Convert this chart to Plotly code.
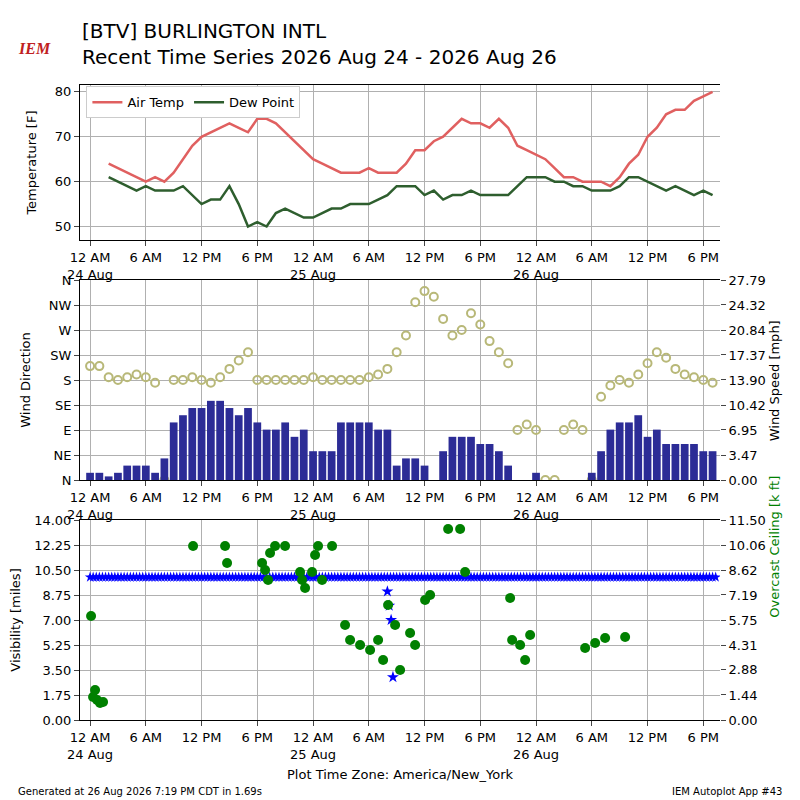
import plotly.graph_objects as go
import pandas as pd

t0 = pd.Timestamp("2026-08-24 00:00")
def T(h): return [t0 + pd.Timedelta(hours=x) for x in h]

# Temperature (hourly from h=2)
temp_h = list(range(2, 68))
air = [64,63,62,61,60,61,60,62,65,68,70,71,72,73,72,71,74,74,73,71,69,67,65,64,63,62,62,62,63,62,62,62,64,67,67,69,70,72,74,73,73,72,74,72,68,67,66,65,63,61,61,60,60,60,59,61,64,66,70,72,75,76,76,78,79,80][:len(temp_h)]
dew = [61,60,59,58,59,58,58,58,59,57,55,56,56,59,55,50,51,50,53,54,53,52,52,53,54,54,55,55,55,56,57,59,59,59,57,58,56,57,57,58,57,57,57,57,59,61,61,61,60,60,59,59,58,58,58,59,61,61,60,59,58,59,58,57,58,57][:len(temp_h)]

# Wind (hourly)
wind_h = list(range(0, 68))
wspd = [1,1,0.5,1,2,2,2,1,3,8,9,10,10,11,11,10,9,10,8,7,7,8,6,7,4,4,4,8,8,8,8,7,7,2,3,3,2,0,4,6,6,6,5,5,4,2,0,0,1,0,0,0,0,0,1,4,7,8,8,9,6,7,5,5,5,5,4,4][:len(wind_h)]
wdir = [205,205,185,180,185,190,185,175,0,180,180,185,180,175,185,200,215,230,180,180,180,180,180,180,185,180,180,180,180,180,185,190,200,230,260,320,340,330,290,260,270,300,280,250,230,210,90,100,90,0,0,90,100,90,0,150,170,180,175,190,210,230,220,200,190,185,180,175][:len(wind_h)]

# Visibility (every 20 min) and ceiling
vis_h = [i/3 for i in range(0, 203)]
vis = [10.0 for _ in vis_h]
dip_h = [32.0, 32.2, 32.4, 32.6]
dip_v = [9.0, 8.0, 7.0, 3.0]
cx = [91,93,95,97,100,103,193,225,227,262,265,268,270,275,285,300,302,305,312,315,318,322,332,345,350,360,370,378,383,388,395,400,410,415,425,430,448,460,465,510,512,520,525,530,585,595,605,625]
cy = [616,697,690,700,703,702,546,546,563,563,570,580,553,546,546,572,580,588,572,555,546,580,546,625,640,645,650,640,660,605,625,670,633,645,600,595,529,529,572,598,640,645,660,635,648,643,638,637]
ceil_h = [(x-90)/9.29 for x in cx]
ceil_k = [(720-y)/200*11.5 for y in cy]

fig = go.Figure()
fig.add_trace(go.Scatter(x=T(temp_h), y=air, mode="lines", line=dict(color="#e06060", width=2.5), name="Air Temp", xaxis="x", yaxis="y"))
fig.add_trace(go.Scatter(x=T(temp_h), y=dew, mode="lines", line=dict(color="#2e5e2e", width=2.5), name="Dew Point", xaxis="x", yaxis="y"))
fig.add_trace(go.Bar(x=T(wind_h), y=wspd, marker=dict(color="#2c2c96", line=dict(width=0)), width=3000000, xaxis="x2", yaxis="y4", showlegend=False))
fig.add_trace(go.Scatter(x=T(wind_h), y=wdir, mode="markers", marker=dict(symbol="circle-open", color="#b8b878", size=8, line=dict(width=2)), xaxis="x2", yaxis="y3", showlegend=False))
fig.add_trace(go.Scatter(x=T(vis_h), y=vis, mode="markers", marker=dict(symbol="star", color="blue", size=8), xaxis="x3", yaxis="y5", showlegend=False))
fig.add_trace(go.Scatter(x=T(dip_h), y=dip_v, mode="markers", marker=dict(symbol="star", color="blue", size=9), xaxis="x3", yaxis="y5", showlegend=False))
fig.add_trace(go.Scatter(x=T(ceil_h), y=ceil_k, mode="markers", marker=dict(color="green", size=10), xaxis="x3", yaxis="y6", showlegend=False))

rng = [t0 - pd.Timedelta(minutes=65), t0 + pd.Timedelta(hours=67.8)]
tv = T(list(range(0, 67, 6)))
tt = ["12 AM<br>24 Aug","6 AM","12 PM","6 PM","12 AM<br>25 Aug","6 AM","12 PM","6 PM","12 AM<br>26 Aug","6 AM","12 PM","6 PM"]
ax = dict(range=rng, tickvals=tv, ticktext=tt, showgrid=True, gridcolor="#b0b0b0", showline=True, linecolor="black", mirror=True, ticks="outside", tickfont=dict(size=13, color="black"), automargin=False)
yc = dict(showgrid=True, gridcolor="#b0b0b0", showline=True, linecolor="black", ticks="outside", automargin=False)
tf = dict(size=13)
fig.update_layout(
    width=800, height=800, plot_bgcolor="white", paper_bgcolor="white",
    font=dict(family="DejaVu Sans", size=13, color="black"),
    margin=dict(l=72, r=88, t=72, b=88), barmode="overlay",
    xaxis=dict(domain=[0, 1], anchor="y", **ax),
    xaxis2=dict(domain=[0, 1], anchor="y3", **ax),
    xaxis3=dict(domain=[0, 1], anchor="y5", **ax),
    yaxis=dict(domain=[0.75, 0.992], range=[47, 81.5], tickvals=[50,60,70,80], title=dict(text="Temperature [F]", font=tf), **yc),
    yaxis3=dict(domain=[0.375, 0.6875], range=[0, 360], tickvals=[0,45,90,135,180,225,270,315,360], ticktext=["N","NE","E","SE","S","SW","W","NW","N"], title=dict(text="Wind Direction", font=tf), **yc),
    yaxis4=dict(overlaying="y3", side="right", anchor="x2", range=[0, 27.79], tickvals=[0,3.47,6.95,10.42,13.90,17.37,20.84,24.32,27.79], ticktext=["0.00","3.47","6.95","10.42","13.90","17.37","20.84","24.32","27.79"], showgrid=False, ticks="outside", automargin=False),
    yaxis5=dict(domain=[0, 0.3125], range=[0, 14], tickvals=[0,1.75,3.5,5.25,7,8.75,10.5,12.25,14], ticktext=["0.00","1.75","3.50","5.25","7.00","8.75","10.50","12.25","14.00"], title=dict(text="Visibility [miles]", font=tf), **yc),
    yaxis6=dict(overlaying="y5", side="right", anchor="x3", range=[0, 11.5], tickvals=[0,1.44,2.88,4.31,5.75,7.19,8.62,10.06,11.5], ticktext=["0.00","1.44","2.88","4.31","5.75","7.19","8.62","10.06","11.50"], showgrid=False, ticks="outside", automargin=False),
    legend=dict(x=0.01, y=0.99, xanchor="left", yanchor="top", orientation="h", bordercolor="#ccc", borderwidth=1, font=dict(size=13)),
    annotations=[
        dict(text="[BTV] BURLINGTON INTL<br>Recent Time Series 2026 Aug 24 - 2026 Aug 26", x=0, y=1.098, xref="paper", yref="paper", xanchor="left", yanchor="top", showarrow=False, align="left", font=dict(size=20)),
        dict(text="<b><i>IEM</i></b>", x=-0.1, y=1.065, xref="paper", yref="paper", xanchor="left", showarrow=False, font=dict(size=16, color="#c02020", family="Liberation Serif")),
        dict(text="Wind Speed [mph]", x=1.1, y=0.53, xref="paper", yref="paper", textangle=-90, showarrow=False, font=dict(size=13)),
        dict(text="Overcast Ceiling [k ft]", x=1.1, y=0.156, xref="paper", yref="paper", textangle=-90, showarrow=False, font=dict(size=13, color="green")),
        dict(text="Plot Time Zone: America/New_York", x=0.5, y=-0.085, xref="paper", yref="paper", yanchor="middle", showarrow=False, font=dict(size=13)),
        dict(text="Generated at 26 Aug 2026 7:19 PM CDT in 1.69s", x=-0.1, y=-0.112, xref="paper", yref="paper", xanchor="left", yanchor="middle", showarrow=False, font=dict(size=10)),
        dict(text="IEM Autoplot App #43", x=1.1, y=-0.112, xref="paper", yref="paper", xanchor="right", yanchor="middle", showarrow=False, font=dict(size=10)),
    ],
)
fig.write_html("out.html")
